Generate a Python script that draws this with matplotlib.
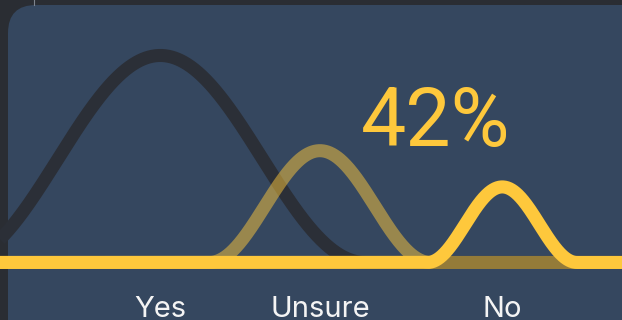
import numpy as np
import matplotlib
matplotlib.use('Agg')
import matplotlib.pyplot as plt
from matplotlib.patches import FancyBboxPatch
from matplotlib.lines import Line2D

plt.rcParams['font.family'] = ['Inter', 'DejaVu Sans']

# answers, where each bump peaks along the track, and how tall it is
answers = ['Yes', 'Unsure', 'No']
peak_at = [24.8, 50.8, 80.5]
peak_height = [100, 54, 36.5]
headline = '42%'

BG_OUT = '#2a2d33'
PANEL = '#35475f'
YELLOW = '#fec83c'
line_styles = [
    dict(color='#2b2f37', alpha=1.0, zorder=3),   # Yes
    dict(color=YELLOW, alpha=0.5, zorder=4),      # Unsure
    dict(color=YELLOW, alpha=1.0, zorder=5),      # No
]


def bump(x, centre, height):
    # smooth cosine hump, half-width tied to its height
    w = height / 3.0
    d = np.clip(np.abs(x - centre) / w, 0, 1)
    return height * (1 + np.cos(np.pi * d)) / 2


fig = plt.figure(figsize=(6.22, 3.2), dpi=100)
fig.patch.set_facecolor(BG_OUT)

# rounded card behind the chart
card = FancyBboxPatch((8 / 622, -0.2), 1.2, 1.2 - 5 / 320,
                      boxstyle='round,pad=0,rounding_size=0.045',
                      transform=fig.transFigure, facecolor=PANEL,
                      edgecolor='none', mutation_aspect=622 / 320, zorder=-10)
fig.add_artist(card)
fig.add_artist(Line2D([34 / 622, 34 / 622], [1 - 5 / 320, 1], transform=fig.transFigure,
                      color='#7d848e', lw=0.8, zorder=-10))

ax = fig.add_axes([0, 0, 1, 1])
ax.set_facecolor('none')
ax.set_xlim(-1.3, 100)
ax.set_ylim(-27.8, 126.8)
ax.axis('off')

x = np.linspace(-2, 101, 1200)
for c, h, st in zip(peak_at, peak_height, line_styles):
    ax.plot(x, bump(x, c, h), lw=9.4, solid_capstyle='butt',
            solid_joinstyle='round', **st)

for c, name in zip(peak_at, answers):
    ax.text(c, -26.3, name, ha='center', va='baseline', fontsize=21,
            color='#f4f4f4')

ax.text(57.5, 56.3, headline, ha='left', va='baseline', fontsize=58,
        family=['Roboto', 'DejaVu Sans'], color=YELLOW)

fig.savefig('out.png', dpi=100, facecolor=fig.get_facecolor())
